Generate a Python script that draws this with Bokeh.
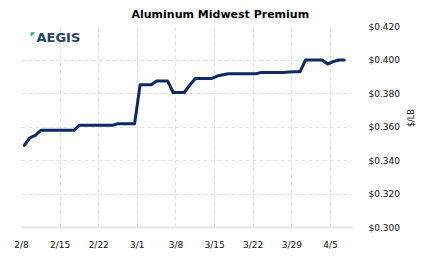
import math
import pandas as pd
from bokeh.plotting import figure
from bokeh.models import (ColumnDataSource, FixedTicker, NumeralTickFormatter,
                          LinearAxis, Range1d, Label, Title)
from bokeh.embed import file_html
from bokeh.resources import INLINE

# ---- data ----
start_date = "2021-02-09"
prices = [
    0.3490, 0.3535, 0.3550, 0.3580, 0.3580, 0.3580, 0.3580, 0.3580, 0.3580, 0.3580,   # 2/9 - 2/18
    0.3610, 0.3610, 0.3610, 0.3610, 0.3610, 0.3610, 0.3610,                           # 2/19 - 2/25
    0.3620, 0.3620, 0.3620, 0.3620,                                                   # 2/26 - 3/1
    0.3852, 0.3852, 0.3852, 0.3874, 0.3874, 0.3874,                                   # 3/2 - 3/7
    0.3806, 0.3806, 0.3806, 0.3850, 0.3890, 0.3890, 0.3890, 0.3890,                   # 3/8 - 3/15
    0.3904, 0.3912, 0.3918, 0.3918, 0.3918, 0.3918, 0.3918, 0.3918,                   # 3/16 - 3/23
    0.3926, 0.3926, 0.3926, 0.3926, 0.3926, 0.3928, 0.3930, 0.3930,                   # 3/24 - 3/31
    0.4000, 0.4000, 0.4000, 0.4000, 0.3976, 0.3990, 0.4000, 0.4000,                   # 4/1 - 4/8
]
tick_dates = ["2/8", "2/15", "2/22", "3/1", "3/8", "3/15", "3/22", "3/29", "4/5"]
y_ticks = [0.30, 0.32, 0.34, 0.36, 0.38, 0.40, 0.42]

base = pd.Timestamp("2021-02-08")
dates = pd.date_range(start_date, periods=len(prices), freq="D")
days = [(d - base).days for d in dates]
src = ColumnDataSource(dict(x=days, y=prices))

tick_pos = [7 * i + 0.5 for i in range(len(tick_dates))]

p = figure(width=423, height=257, output_backend="svg", toolbar_location=None,
           x_range=Range1d(0.5, 60.5), y_range=Range1d(0.30, 0.42),
           y_axis_location=None, min_border_left=21, min_border_right=68,
           min_border_top=26, min_border_bottom=30, background_fill_color="white",
           border_fill_color="white")
p.outline_line_color = None

p.title = Title(text="Aluminum Midwest Premium", align="left", offset=110,
                text_font="DejaVu Sans", text_font_size="11px",
                text_font_style="bold", text_color="#000000", standoff=11)

# x axis
xa = p.xaxis[0]
xa.ticker = FixedTicker(ticks=tick_pos)
xa.major_label_overrides = {t: lab for t, lab in zip(tick_pos, tick_dates)}
xa.major_tick_line_color = None
xa.minor_tick_line_color = None
xa.axis_line_color = "#e6e6e6"
xa.axis_line_width = 2
xa.major_label_text_font = "DejaVu Sans"
xa.major_label_text_font_size = "9px"
xa.major_label_text_color = "#111111"
xa.major_label_standoff = 6

# y axis on right (tick labels)
ya = LinearAxis(ticker=FixedTicker(ticks=y_ticks),
                formatter=NumeralTickFormatter(format="$0.000"))
ya.axis_line_color = None
ya.major_tick_line_color = None
ya.minor_tick_line_color = None
ya.major_label_text_font = "DejaVu Sans"
ya.major_label_text_font_size = "9px"
ya.major_label_text_color = "#111111"
ya.major_label_standoff = 10
p.add_layout(ya, "right")

# unit label axis (no ticks), label centred a bit above the middle
yl = LinearAxis(ticker=FixedTicker(ticks=[]), axis_label="$/LB", bounds=(0.3316, 0.42))
yl.axis_line_color = None
yl.major_tick_line_color = None
yl.minor_tick_line_color = None
yl.major_label_text_font_size = "0px"
yl.major_label_standoff = 0
yl.axis_label_text_font = "DejaVu Sans"
yl.axis_label_text_font_size = "8px"
yl.axis_label_text_font_style = "normal"
yl.axis_label_text_color = "#111111"
yl.axis_label_standoff = 9
try:
    yl.axis_label_orientation = math.pi / 2
except Exception:
    pass
p.add_layout(yl, "right")

# grids
p.xgrid.ticker = FixedTicker(ticks=tick_pos)
p.ygrid.ticker = FixedTicker(ticks=y_ticks)
for g in (p.xgrid[0], p.ygrid[0]):
    g.grid_line_color = "#e3e3e3"
    g.grid_line_dash = "4 3"
    g.grid_line_width = 1

p.line("x", "y", source=src, line_color="#0b2a66", line_width=3,
       line_join="round", line_cap="round")

# logo
p.add_layout(Label(x=9, y=194, x_units="screen", y_units="screen", text="\u25E4",
                   text_font="DejaVu Sans", text_font_size="6px", text_color="#22b58a",
                   text_baseline="middle"))
p.add_layout(Label(x=15, y=190, x_units="screen", y_units="screen", text="AEGIS",
                   text_font="DejaVu Sans", text_font_size="13px", text_font_style="bold",
                   text_color="#2a4262", text_baseline="middle"))

open("out.html", "w").write(file_html(p, INLINE))
